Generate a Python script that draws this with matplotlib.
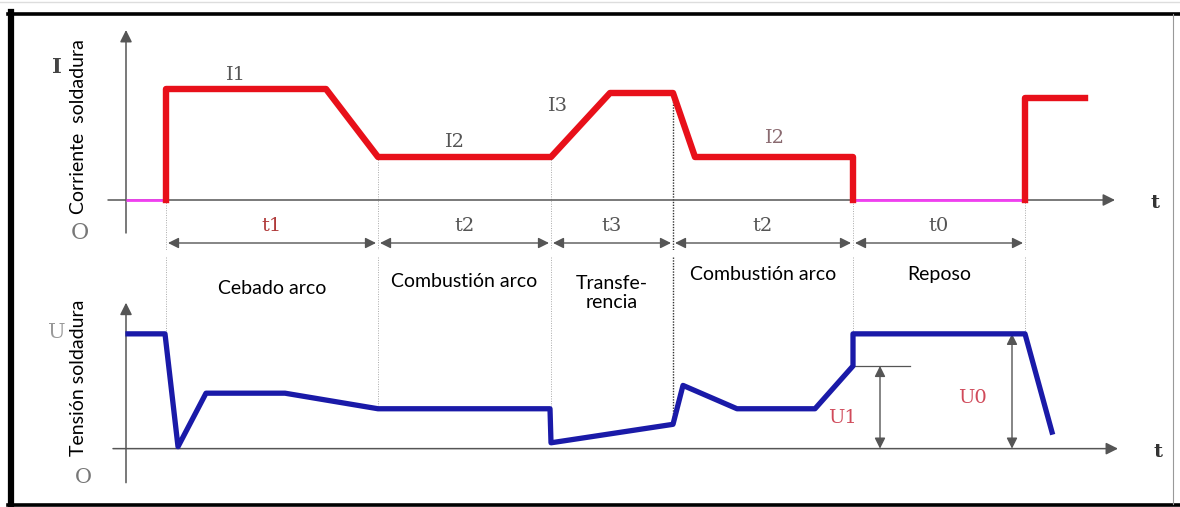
import matplotlib.pyplot as plt
import numpy as np

# limites de cada fase (unidades de tiempo, origen en el eje vertical)
t_edges = [40, 252, 425, 547, 727, 899]
t_names = ["t1", "t2", "t3", "t2", "t0"]
fases = ["Cebado arco", "Combustión arco", "Transfe-\nrencia", "Combustión arco", "Reposo"]

# corriente de soldadura (forma de onda esquematica)
t_corr = [40, 40, 200, 252, 425, 484, 547, 569, 727, 727]
i_corr = [0, 111, 111, 43, 43, 107, 107, 43, 43, 0]
t_corr2 = [899, 899, 959]
i_corr2 = [0, 102, 102]
t_cero = [[0, 40], [727, 899]]

# tension de soldadura
t_tens = [2, 39, 52, 80, 159, 252, 424, 425, 547, 557, 611, 689, 727, 727, 899, 926]
u_tens = [118, 118, 2, 57, 57, 41, 41, 6, 25, 65, 41, 41, 85, 118, 118, 17]

# niveles de la onda en cada limite (para las lineas de puntos)
i_edges = [0, 43, 43, 107, 43, 0]
u_edges = [118, 41, 41, 25, 118, 118]

U1 = 85
U0 = 118

H = 507
fig = plt.figure(figsize=(11.8, 5.07), dpi=100)
bg = fig.add_axes([0, 0, 1, 1])
bg.set_xlim(0, 1180)
bg.set_ylim(H, 0)
bg.axis("off")
ax1 = fig.add_axes([0, (H - 250) / H, 1, 250 / H])
ax2 = fig.add_axes([0, 0, 1, 250 / H])
ax1.set_xlim(-126, 1054)
ax1.set_ylim(-50, 200)
ax2.set_xlim(-126, 1054)
ax2.set_ylim(-60, 197)
for a in (ax1, ax2):
    a.axis("off")
    a.patch.set_alpha(0)

# marco
bg.plot([8, 1180], [13.5, 13.5], color="black", lw=2.6)
bg.plot([10.5, 10.5], [12, 506], color="black", lw=4.5)
bg.plot([8, 1180], [504.5, 504.5], color="black", lw=2.6)
bg.plot([1172.5, 1172.5], [14, 504], color="#999999", lw=0.8)
bg.plot([0, 1180], [2, 2], color="#dddddd", lw=1)

gris = "#555555"
serif = "DejaVu Serif"
sans = "Lato"

# ejes con flechas
def flecha(ax, x0, y0, x1, y1):
    ax.annotate("", xy=(x1, y1), xytext=(x0, y0),
                arrowprops=dict(arrowstyle="-|>", color=gris, lw=1.1,
                                mutation_scale=18, shrinkA=0, shrinkB=0))

flecha(ax1, 0, -33, 0, 170)
flecha(ax1, -18, 0, 989, 0)
flecha(ax2, 0, -35, 0, 150)
flecha(ax2, -13, 0, 992, 0)

# corriente
for seg in t_cero:
    ax1.plot(seg, [0, 0], color="#f040f0", lw=2.0, solid_capstyle="butt", zorder=4)
ax1.plot(t_corr, i_corr, color="#e8101a", lw=4.6, solid_joinstyle="round", zorder=5)
ax1.plot(t_corr2, i_corr2, color="#e8101a", lw=4.6, solid_joinstyle="round", zorder=5)

# tension
ax2.plot(t_tens, u_tens, color="#1a1aa8", lw=3.8, solid_joinstyle="round", zorder=5)

# lineas verticales de puntos
for k, t in enumerate(t_edges):
    estilo = dict(color="#333333", lw=1.0, ls=(0, (1, 1))) if k == 3 else \
        dict(color="#aaaaaa", lw=0.7, ls=(0, (1, 1.5)))
    ax1.plot([t, t], [i_edges[k], -50], **estilo)
    ax2.plot([t, t], [197, u_edges[k]], **estilo)

# cotas de tiempo y nombres de fase
fase_y = [165, 172, 160, 179, 179]
for k in range(len(t_names)):
    a, b = t_edges[k], t_edges[k + 1]
    ax1.annotate("", xy=(b - 2, -43), xytext=(a + 2, -43),
                 arrowprops=dict(arrowstyle="<|-|>", color=gris, lw=1.0,
                                 mutation_scale=16, shrinkA=0, shrinkB=0))
    col = "#b03a3a" if k == 0 else gris
    ax1.text((a + b) / 2, -26, t_names[k], ha="center", va="center",
             fontsize=14, family=serif, color=col)
    ax2.text((a + b) / 2, fase_y[k], fases[k], ha="center",
             va="center", fontsize=14, family=sans, color="black",
             linespacing=1.1)

# etiquetas de la corriente
ax1.text(110, 125, "I1", fontsize=14, family=serif, color=gris, ha="center", va="center")
ax1.text(329, 58, "I2", fontsize=14, family=serif, color=gris, ha="center", va="center")
ax1.text(432, 94, "I3", fontsize=14, family=serif, color=gris, ha="center", va="center")
ax1.text(649, 62, "I2", fontsize=14, family=serif, color="#8a6a70", ha="center", va="center")

# cotas U1 y U0
ax2.plot([727, 784], [U1, U1], color=gris, lw=0.9)
for tx, u in ((754, U1), (886, U0)):
    ax2.annotate("", xy=(tx, u), xytext=(tx, 0),
                 arrowprops=dict(arrowstyle="<|-|>", color=gris, lw=1.0,
                                 mutation_scale=16, shrinkA=0, shrinkB=0))
ax2.text(716, 32, "U1", fontsize=14, family=serif, color="#d04a5a", ha="center", va="center")
ax2.text(846, 52, "U0", fontsize=14, family=serif, color="#d04a5a", ha="center", va="center")

# letras de los ejes
ax1.text(-69, 133, "I", fontsize=15, family=serif, color="#444444", ha="center", va="center", weight="bold")
ax1.text(-46, -33, "O", fontsize=16, family=serif, color="#777777", ha="center", va="center")
ax1.text(1029, -3, "t", fontsize=14, family=serif, color="#333333", ha="center", va="center", weight="bold")
ax2.text(-69, 119, "U", fontsize=15, family=serif, color="#999999", ha="center", va="center")
ax2.text(-43, -30, "O", fontsize=15, family=serif, color="#777777", ha="center", va="center")
ax2.text(1032, -3, "t", fontsize=14, family=serif, color="#333333", ha="center", va="center", weight="bold")

# titulos laterales
ax1.text(-48, 73, "Corriente  soldadura", rotation=90, fontsize=14, family=sans,
         ha="center", va="center")
ax2.text(-48, 73, "Tensión soldadura", rotation=90, fontsize=14, family=sans,
         ha="center", va="center")

fig.savefig("out.png", dpi=100)
